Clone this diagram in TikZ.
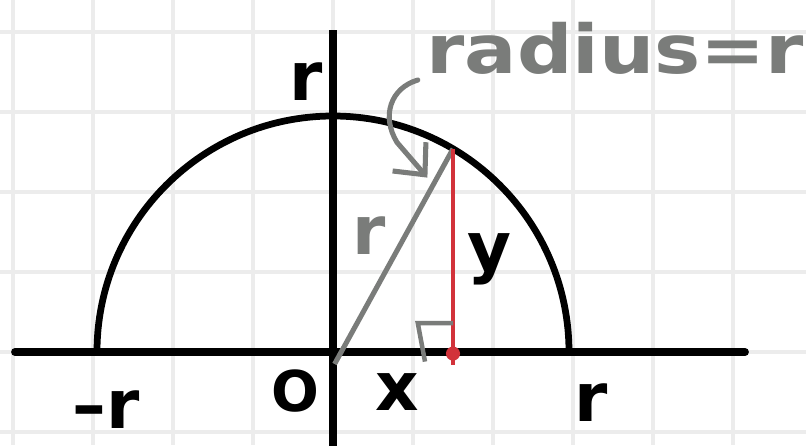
\documentclass[tikz,border=0pt]{standalone}
\usepackage{fontspec}
\setmainfont{DejaVu Sans}
\usetikzlibrary{arrows.meta}
\definecolor{lapiz}{HTML}{7A7C7A}
\definecolor{rojo}{HTML}{D2323A}
\definecolor{cuadricula}{HTML}{ECECEC}

\begin{document}
\begin{tikzpicture}[
    etiqueta/.style={font=\fontsize{24}{27}\selectfont\bfseries, inner sep=0pt},
  ]
        % Fondo y cuadrícula del papel
        \useasboundingbox (-4.1625,-1.1625) rectangle (5.9125,4.4);
        \fill[white] (-4.1625,-1.1625) rectangle (5.9125,4.4);
        \draw[cuadricula, line width=1.3pt] (-4.1625,-1.1625) grid (5.9125,4.4);

        % Ejes
        \draw[line width=2.8pt, line cap=round] (-3.975,0) -- (5.15,0);
        \draw[line width=2.8pt] (0,-1.2) -- (0,4.02);

        % Semicircunferencia de radio r
        \draw[line width=2.4pt] (2.95,0) arc (0:180:2.95);

        % Puntos: origen, punto P sobre la curva y su pie Q
        \coordinate (O) at (0.02,-0.15);
        \coordinate (P) at (1.5,2.54);
        \coordinate (Q) at (1.5,-0.16);

        % Radio (gris) y altura y (rojo)
        \draw[lapiz, line width=1.8pt] (O) -- (P);
        \draw[rojo, line width=1.5pt] (P) -- (Q);
        \fill[rojo] (1.5,-0.02) circle (2.5pt);

        % Marca de ángulo recto
        \draw[lapiz, line width=1.6pt] (1.5,0.36) -- (1.06,0.36) -- (1.15,-0.12);

        % Etiquetas
        \node[etiqueta] (rarriba) at (-0.34,3.375) {r};
        \node[etiqueta, lapiz] (rgris) at (0.45,1.46) {r};
        \node[etiqueta] (ylab) at (1.96,1.16) {y};
        \node[etiqueta] (menosr) at (-2.84,-0.72) {–r};
        \node[etiqueta, font=\fontsize{20}{22}\selectfont\bfseries] (origen) at (-0.475,-0.49) {O};
        \node[etiqueta] (xlab) at (0.8,-0.5) {x};
        \node[etiqueta] (rderecha) at (3.23,-0.63) {r};
        \node[etiqueta, lapiz] (radio) at (3.53,3.8) {\scalebox{1.15}[1]{radius=r}};

        % Flecha desde la etiqueta del radio hasta P
        \coordinate (inicio) at (1.06,3.4);
        \coordinate (punta) at (1.18,2.18);
        \draw[lapiz, line width=1.8pt, line cap=round,
              -{Straight Barb[length=0.3cm, width=0.55cm]}]
            (inicio) .. controls (0.72,3.3) and (0.6,2.95) .. (0.8,2.62) -- (punta);

\end{tikzpicture}
\end{document}
